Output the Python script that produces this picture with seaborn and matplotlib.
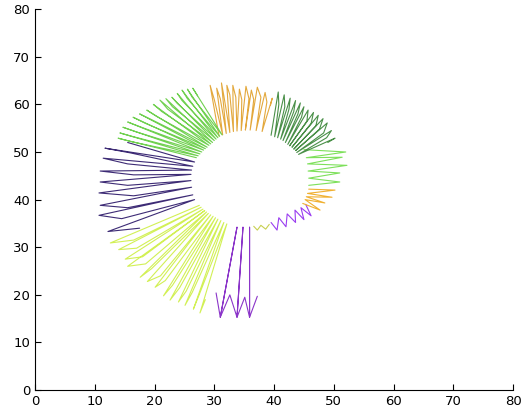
import matplotlib
matplotlib.use('Agg')
import matplotlib.pyplot as plt
import seaborn as sns

# each coloured stretch of the zigzag ring (data units)
navy_x = [15.5, 26.7, 11.7, 16.0, 26.4, 11.4, 15.5, 26.2, 10.9, 16.5, 26.1, 10.9, 15.5,
          26.1, 10.7, 16.5, 26.2, 10.9, 15.5, 26.4, 10.7, 14.5, 26.7, 12.2, 17.5]
navy_y = [52.0, 47.9, 50.8, 49.8, 47.0, 48.7, 47.5, 46.2, 46.0, 45.2, 45.3, 43.7, 43.0,
          44.0, 41.4, 40.8, 42.6, 38.8, 38.3, 41.0, 36.7, 36.0, 40.0, 33.3, 34.0]

lime_x = [27.5, 12.6, 16.5, 27.8, 14.0, 17.0, 28.1, 15.1, 18.0, 28.4, 15.5, 18.5,
          28.7, 17.6, 19.5, 29.0, 18.8, 21.0, 29.4, 20.1, 21.8, 29.8, 21.5, 23.0,
          30.2, 22.6, 24.2, 30.6, 24.0, 25.3, 31.1, 25.1, 26.3, 31.6, 26.5, 27.4,
          32.1, 27.6, 28.5]
lime_y = [38.8, 30.9, 31.5, 38.4, 29.5, 29.8, 38.0, 27.5, 28.0, 37.7, 26.0, 26.5,
          37.4, 23.7, 25.5, 37.1, 22.8, 24.0, 36.8, 21.6, 23.0, 36.5, 19.8, 22.0,
          36.2, 18.9, 21.5, 35.9, 18.5, 20.8, 35.6, 17.8, 20.5, 35.2, 17.0, 19.8,
          34.9, 16.2, 19.0]

purple_x = [30.3, 31.0, 33.8, 31.0, 32.6, 33.8, 34.8, 33.8, 35.1, 35.9, 35.9, 35.9, 37.2]
purple_y = [20.4, 15.3, 34.2, 15.3, 20.0, 15.3, 34.2, 15.3, 19.5, 15.3, 34.2, 15.3, 19.7]

olive_x = [36.6, 37.2, 37.8, 38.6, 39.2]
olive_y = [34.4, 33.6, 34.6, 33.8, 34.8]

violet_x = [39.5, 40.5, 40.8, 42.0, 42.2, 43.6, 43.5, 45.0, 44.5, 46.2, 45.3]
violet_y = [35.2, 33.6, 36.2, 34.3, 37.0, 35.2, 37.8, 35.8, 38.3, 36.6, 39.0]

orange_r_x = [44.8, 47.7, 45.2, 48.5, 45.4, 49.7, 45.6, 50.2, 45.8]
orange_r_y = [39.2, 37.8, 40.0, 39.3, 40.6, 40.5, 41.3, 42.0, 42.2]

lgreen_x = [45.8, 51.0, 45.8, 51.0, 45.7, 52.2, 45.6, 51.4, 45.4, 52.0, 45.0]
lgreen_y = [43.0, 43.7, 44.5, 45.6, 46.0, 47.2, 47.5, 48.9, 48.8, 50.0, 50.5]

dgreen_x = [39.5, 40.7, 40.8, 40.1, 41.7, 41.8, 40.6, 42.7, 42.5, 41.1, 43.6, 43.3,
            41.5, 44.4, 44.0, 41.9, 45.0, 44.6, 42.3, 45.7, 45.5, 42.6, 46.6, 46.2,
            43.0, 47.4, 47.0, 43.3, 48.2, 47.6, 43.6, 48.9, 48.3, 43.8, 49.6, 48.8,
            44.1, 50.2, 49.0]
dgreen_y = [53.5, 62.6, 60.0, 53.2, 62.0, 59.5, 53.0, 61.3, 59.0, 52.7, 60.8, 58.5,
            52.4, 60.3, 58.0, 52.0, 59.5, 57.3, 51.6, 58.8, 56.5, 51.3, 58.3, 56.0,
            51.0, 57.7, 55.5, 50.6, 57.0, 54.8, 50.3, 56.1, 54.0, 49.9, 54.5, 53.0,
            49.5, 52.9, 52.0]

orange_t_x = [30.8, 29.3, 30.0, 31.4, 30.4, 31.0, 32.0, 31.2, 31.6, 32.6, 32.1, 32.6,
              33.2, 33.1, 33.6, 33.8, 34.2, 34.6, 34.5, 35.3, 35.8, 35.2, 36.2, 36.6,
              36.0, 37.2, 37.8, 37.0, 38.5, 38.8, 38.0, 39.7, 39.4]
orange_t_y = [53.3, 64.0, 61.0, 53.6, 63.4, 61.2, 53.9, 64.5, 61.8, 54.1, 64.0, 62.0,
              54.3, 64.0, 61.5, 54.4, 63.2, 61.0, 54.5, 63.8, 61.2, 54.6, 63.0, 61.0,
              54.6, 63.6, 61.5, 54.5, 62.5, 60.5, 54.3, 61.3, 59.8]

green_x = [27.0, 13.9, 16.0, 27.3, 14.2, 16.5, 27.6, 14.7, 17.0, 27.9, 15.5, 17.8,
           28.2, 16.4, 18.5, 28.5, 17.5, 19.5, 28.8, 18.7, 20.3, 29.1, 19.8, 21.2,
           29.4, 20.9, 22.2, 29.7, 21.9, 23.0, 30.0, 22.9, 23.8, 30.3, 23.8, 24.6,
           30.6, 24.6, 25.5, 30.9, 25.5, 26.3, 31.3, 26.4, 27.2]
green_y = [48.8, 52.9, 52.2, 49.2, 54.0, 53.2, 49.6, 55.2, 54.2, 50.0, 56.3, 55.2,
           50.4, 57.3, 56.0, 50.7, 58.0, 56.8, 51.0, 58.8, 57.5, 51.4, 60.0, 58.5,
           51.7, 60.9, 59.0, 52.0, 61.2, 59.5, 52.4, 61.5, 60.2, 52.7, 62.3, 60.8,
           53.0, 63.0, 61.2, 53.3, 63.2, 61.5, 53.6, 63.4, 61.8]

ticks = [0, 10, 20, 30, 40, 50, 60, 70, 80]

segmentos = [
    (navy_x, navy_y, '#3d2b75'),
    (lime_x, lime_y, '#d2f055'),
    (purple_x, purple_y, '#8b35c9'),
    (olive_x, olive_y, '#c8d050'),
    (violet_x, violet_y, '#9a3df0'),
    (orange_r_x, orange_r_y, '#f0b030'),
    (lgreen_x, lgreen_y, '#7de05a'),
    (dgreen_x, dgreen_y, '#4a8f48'),
    (orange_t_x, orange_t_y, '#e3a83c'),
    (green_x, green_y, '#70d050'),
]

sns.set_style('ticks')
plt.rcParams['font.family'] = ['DejaVu Sans']

fig = plt.figure(figsize=(5.23, 4.15), dpi=100)
ax = fig.add_axes([0.067, 0.060, 0.914, 0.918])

for xs, ys, cor in segmentos:
    sns.lineplot(x=xs, y=ys, sort=False, estimator=None, color=cor, lw=0.8, ax=ax)

ax.set_xlim(0, 80)
ax.set_ylim(0, 80)
ax.set_xticks(ticks)
ax.set_yticks(ticks)
ax.tick_params(direction='in', length=4, labelsize=9.5, colors='black', width=0.8)
for lado in ['top', 'right']:
    ax.spines[lado].set_visible(False)
for lado in ['left', 'bottom']:
    ax.spines[lado].set_linewidth(0.8)
    ax.spines[lado].set_color('black')

fig.savefig('out.png', dpi=100)
